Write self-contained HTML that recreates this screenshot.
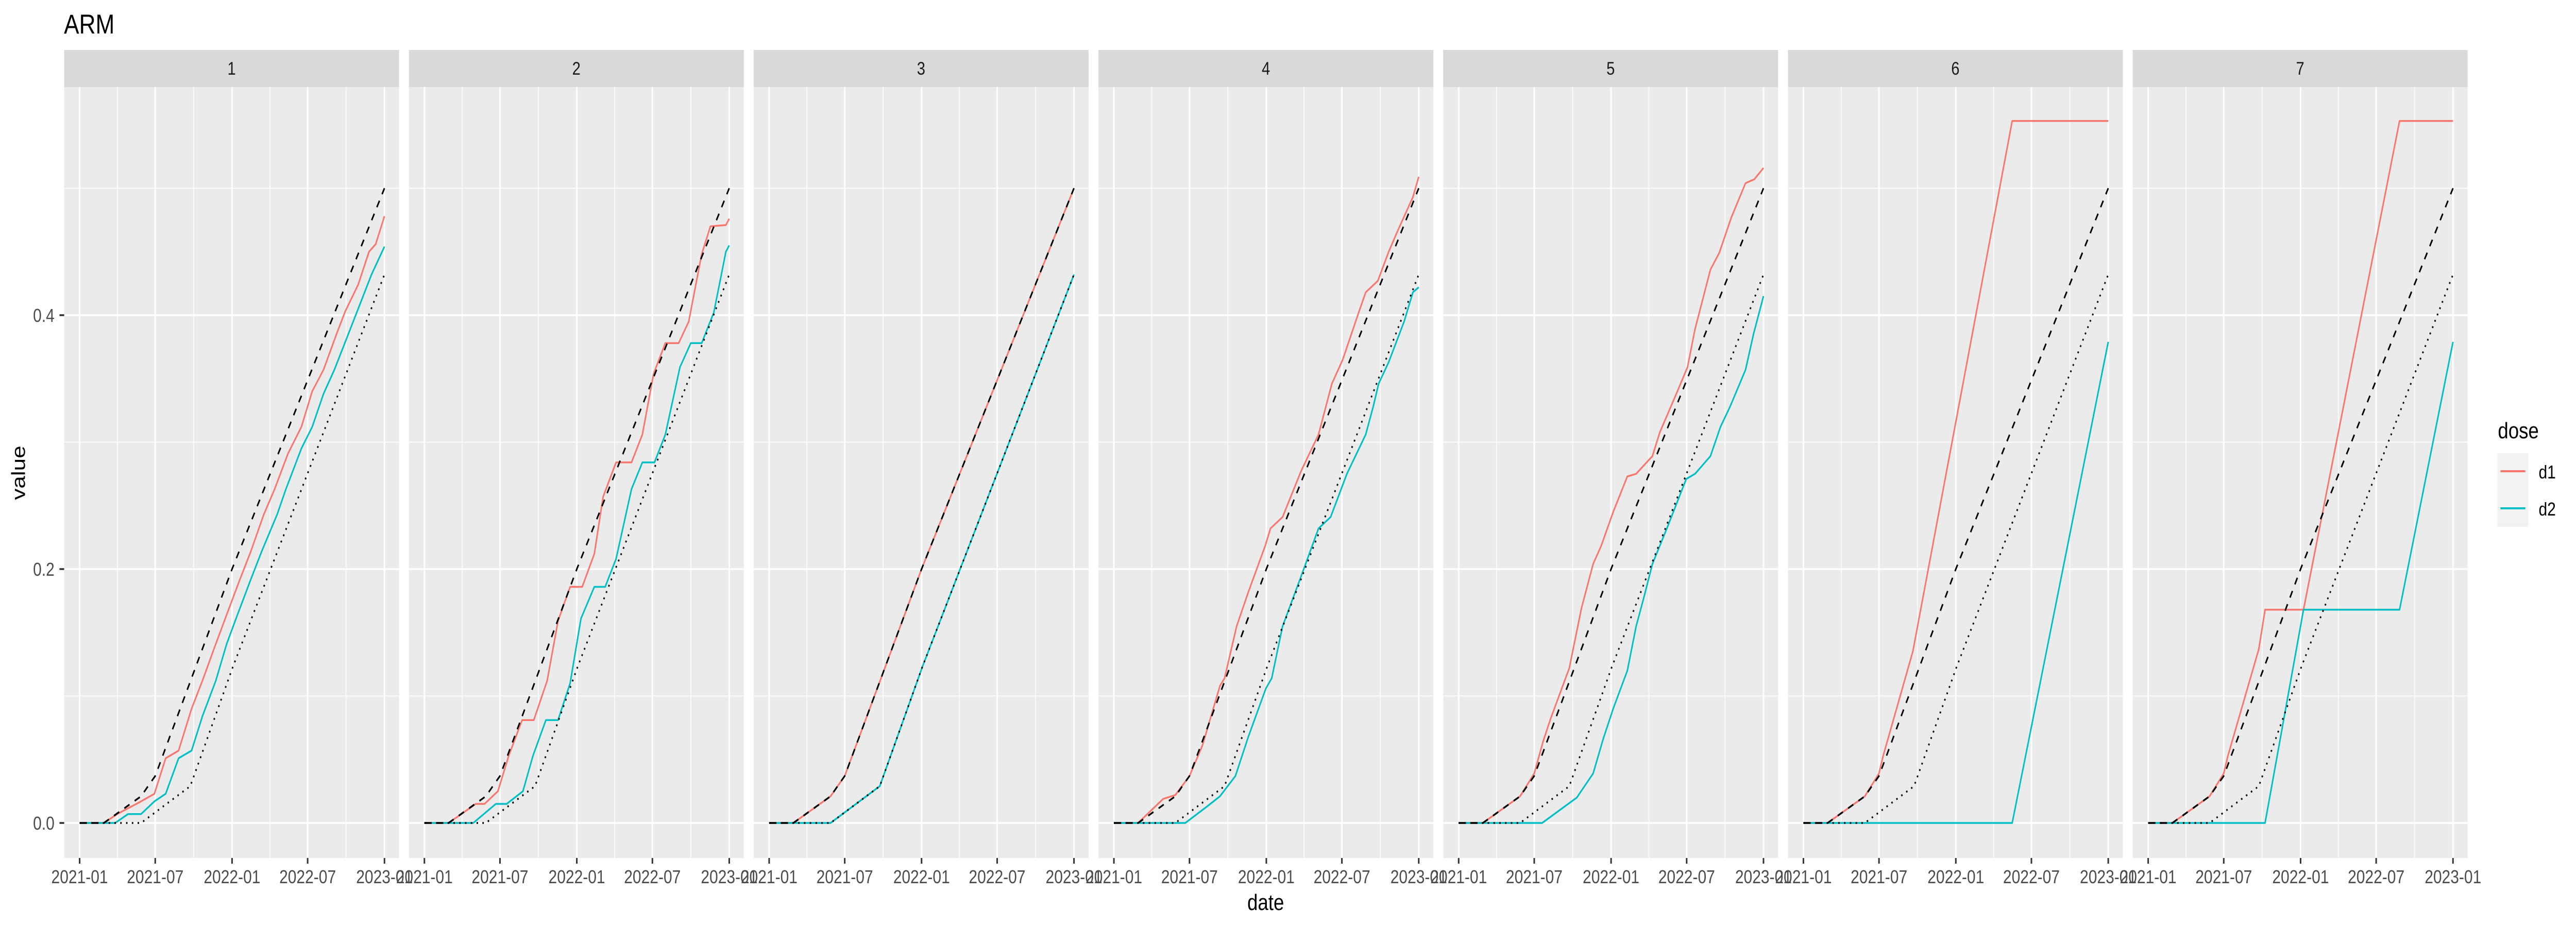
<!DOCTYPE html>
<html><head><meta charset="utf-8"><title>ARM</title>
<style>html,body{margin:0;padding:0;background:#fff;width:100%;height:100%;overflow:hidden}svg{display:block;width:100vw;height:100vh}text{font-family:"Liberation Sans",Arial,sans-serif}</style>
</head><body>
<svg id="chart" xmlns="http://www.w3.org/2000/svg" viewBox="0 0 6000 1800" preserveAspectRatio="none">
<rect x="0" y="0" width="6000" height="1800" fill="#fff"/>
<text x="149" y="65" font-size="53" fill="#000">ARM</text>
<text x="2948" y="1767" font-size="44" text-anchor="middle" fill="#000">date</text>
<text transform="translate(58,918) rotate(-90)" font-size="44" text-anchor="middle" fill="#000">value</text>
<g>
<text x="5818" y="851" font-size="44" fill="#000">dose</text>
<rect x="5817" y="880" width="72" height="143" fill="#F2F2F2"/>
<line x1="5824" y1="915" x2="5882" y2="915" stroke="#F8766D" stroke-width="4"/>
<line x1="5824" y1="987" x2="5882" y2="987" stroke="#00BFC4" stroke-width="4"/>
<text x="5913" y="929" font-size="36" fill="#000">d1</text>
<text x="5913" y="1001" font-size="36" fill="#000">d2</text>
</g>
<g id="panels"></g>
</svg>
<script>
// tick definitions (days since 2021-01-01)
const xTickDays = [0, 181, 365, 546, 730];
const xTickLabels = ["2021-01", "2021-07", "2022-01", "2022-07", "2023-01"];
const xMinorDays = [90.5, 273, 455.5, 638];
const yTickValues = [0, 0.2, 0.4];
const yTickLabels = ["0.0", "0.2", "0.4"];
const yMinorValues = [0.1, 0.3, 0.5];
const panelLabels = ["1", "2", "3", "4", "5", "6", "7"];

// reference lines
const dashedDays = [0, 58, 147, 181, 365, 730];
const dashedVals = [0, 0, 0.021, 0.037, 0.2, 0.5];
const dottedDays = [0, 147, 265, 367, 730];
const dottedVals = [0, 0, 0.029, 0.123, 0.432];

// panel series
const p1d1Days = [0,58,90,147,179,206,237,268,294,326,352,384,410,441,467,499,531,557,584,615,636,667,693,709,730];
const p1d1Vals = [0,0,.007,.017,.023,.051,.057,.090,.112,.141,.164,.192,.214,.243,.263,.291,.312,.340,.357,.385,.403,.424,.450,.456,.478];
const p1d2Days = [0,85,116,147,179,206,237,268,294,326,352,378,410,436,473,494,531,557,584,610,641,667,699,730];
const p1d2Vals = [0,0,.007,.007,.017,.023,.051,.057,.084,.112,.141,.164,.192,.214,.243,.263,.295,.312,.338,.357,.383,.405,.432,.454];

const p2d1Days = [0,58,123,144,176,202,234,262,294,320,349,378,407,428,459,496,522,549,577,609,633,664,685,722,730];
const p2d1Vals = [0,0,.015,.015,.025,.053,.081,.081,.112,.159,.186,.186,.212,.257,.284,.284,.306,.354,.378,.378,.395,.448,.47,.471,.476];
const p2d2Days = [0,117,171,197,236,260,291,320,349,375,407,433,459,496,522,551,577,612,638,664,693,722,730];
const p2d2Vals = [0,0,.015,.015,.025,.053,.081,.081,.11,.161,.186,.186,.208,.263,.284,.284,.306,.359,.378,.378,.402,.45,.455];

const p3d1Days = [0,58,147,181,365,730];
const p3d1Vals = [0,0,0.021,0.037,0.2,0.5];
const p3d2Days = [0,147,265,367,730];
const p3d2Vals = [0,0,0.029,0.123,0.432];

const p4d1Days = [0,58,118,147,181,212,254,265,294,322,362,375,404,448,490,522,548,585,603,632,658,679,716,730];
const p4d1Vals = [0,0,.019,.022,.037,.061,.108,.114,.155,.182,.218,.232,.241,.277,.306,.346,.365,.401,.418,.427,.45,.466,.493,.509];
const p4d2Days = [0,171,223,254,291,322,364,378,404,448,490,519,558,603,621,634,658,695,716,730];
const p4d2Vals = [0,0,.013,.021,.037,.068,.106,.114,.155,.194,.232,.241,.275,.306,.328,.346,.363,.395,.418,.422];

const p5d1Days = [0,58,147,181,202,220,265,294,322,341,370,404,425,464,482,516,548,566,603,624,653,687,708,730];
const p5d1Vals = [0,0,.021,.039,.064,.082,.122,.169,.204,.218,.245,.273,.275,.289,.308,.334,.359,.389,.436,.449,.477,.504,.507,.516];
const p5d2Days = [0,200,283,322,346,370,404,425,443,464,501,545,566,603,627,650,687,706,730];
const p5d2Vals = [0,0,.02,.039,.066,.09,.12,.155,.177,.204,.234,.271,.275,.289,.312,.328,.357,.385,.415];

const p6d1Days = [0,58,147,181,191,262,500,730];
const p6d1Vals = [0,0,.021,.039,.053,.135,.553,.553];
const p6d2Days = [0,500,730];
const p6d2Vals = [0,0,.379];

const p7d1Days = [0,58,147,181,191,265,280,372,602,730];
const p7d1Vals = [0,0,.021,.039,.053,.137,.168,.168,.553,.553];
const p7d2Days = [0,280,372,602,730];
const p7d2Vals = [0,0,.168,.168,.379];

const d1DaysAll = [p1d1Days,p2d1Days,p3d1Days,p4d1Days,p5d1Days,p6d1Days,p7d1Days];
const d1ValsAll = [p1d1Vals,p2d1Vals,p3d1Vals,p4d1Vals,p5d1Vals,p6d1Vals,p7d1Vals];
const d2DaysAll = [p1d2Days,p2d2Days,p3d2Days,p4d2Days,p5d2Days,p6d2Days,p7d2Days];
const d2ValsAll = [p1d2Vals,p2d2Vals,p3d2Vals,p4d2Vals,p5d2Vals,p6d2Vals,p7d2Vals];

const NS = "http://www.w3.org/2000/svg";
const root = document.getElementById("panels");
const PANEL_W = 780, PITCH = 803, TOP = 169, BOTTOM = 1666, LEFT0 = 149.5;
const dayScale = 710 / 730;
function yScale(v) { return 1598 - v * 2465; }
function mk(tag, attrs, parent) {
  const el = document.createElementNS(NS, tag);
  for (const k in attrs) el.setAttribute(k, attrs[k]);
  parent.appendChild(el);
  return el;
}
function pathFrom(xf, days, vals) {
  return days.map((d, i) => (i ? "L" : "M") + xf(d).toFixed(1) + "," + yScale(vals[i]).toFixed(1)).join(" ");
}

for (let p = 0; p < 7; p++) {
  const L = LEFT0 + PITCH * p;
  const xScale = d => L + 36 + d * dayScale;
  const g = mk("g", {}, root);
  
  

  const strip = mk("rect", {x: L, y: 97, width: PANEL_W, height: 72, fill: "#D9D9D9"}, g);
  
  
  const st = mk("text", {x: L + PANEL_W / 2, y: 145, "font-size": 35, "text-anchor": "middle", fill: "#1A1A1A"}, g);
  st.textContent = panelLabels[p];
  
  

  const bg = mk("rect", {x: L, y: TOP, width: PANEL_W, height: BOTTOM - TOP, fill: "#EBEBEB"}, g);
  
  

  yMinorValues.forEach(v => {
    const l = mk("line", {x1: L, x2: L + PANEL_W, y1: yScale(v), y2: yScale(v), stroke: "#fff", "stroke-width": 1.8}, g);
    
    
  });
  xMinorDays.forEach(d => {
    const l = mk("line", {x1: xScale(d), x2: xScale(d), y1: TOP, y2: BOTTOM, stroke: "#fff", "stroke-width": 1.8}, g);
    
    
  });
  yTickValues.forEach(v => {
    const l = mk("line", {x1: L, x2: L + PANEL_W, y1: yScale(v), y2: yScale(v), stroke: "#fff", "stroke-width": 3.6}, g);
    
    
  });
  xTickDays.forEach((d, i) => {
    const l = mk("line", {x1: xScale(d), x2: xScale(d), y1: TOP, y2: BOTTOM, stroke: "#fff", "stroke-width": 3.6}, g);
    
    
    const t = mk("line", {x1: xScale(d), x2: xScale(d), y1: BOTTOM, y2: BOTTOM + 11, stroke: "#333", "stroke-width": 3.6}, g);
    
    
    const tx = mk("text", {x: xScale(d), y: 1715, "font-size": 36, "text-anchor": "middle", fill: "#4D4D4D"}, g);
    tx.textContent = xTickLabels[i];
    
    
  });

  const d1 = mk("path", {d: pathFrom(xScale, d1DaysAll[p], d1ValsAll[p]), fill: "none", stroke: "#F8766D", "stroke-width": 3.5, "stroke-linejoin": "round"}, g);
  
  
  const d2 = mk("path", {d: pathFrom(xScale, d2DaysAll[p], d2ValsAll[p]), fill: "none", stroke: "#00BFC4", "stroke-width": 3.5, "stroke-linejoin": "round"}, g);
  
  
  const rd = mk("path", {d: pathFrom(xScale, dashedDays, dashedVals), fill: "none", stroke: "#000", "stroke-width": 3.5, "stroke-dasharray": "14,14"}, g);
  
  
  const rt = mk("path", {d: pathFrom(xScale, dottedDays, dottedVals), fill: "none", stroke: "#000", "stroke-width": 3.5, "stroke-dasharray": "3.5,10"}, g);
  
  

  if (p === 0) {
    yTickValues.forEach((v, i) => {
      const t = mk("line", {x1: L - 11, x2: L, y1: yScale(v), y2: yScale(v), stroke: "#333", "stroke-width": 3.6}, g);
      
      
      const tx = mk("text", {x: 127, y: yScale(v) + 13, "font-size": 36, "text-anchor": "end", fill: "#4D4D4D"}, g);
      tx.textContent = yTickLabels[i];
      
      
    });
  }
}
</script>
</body></html>
